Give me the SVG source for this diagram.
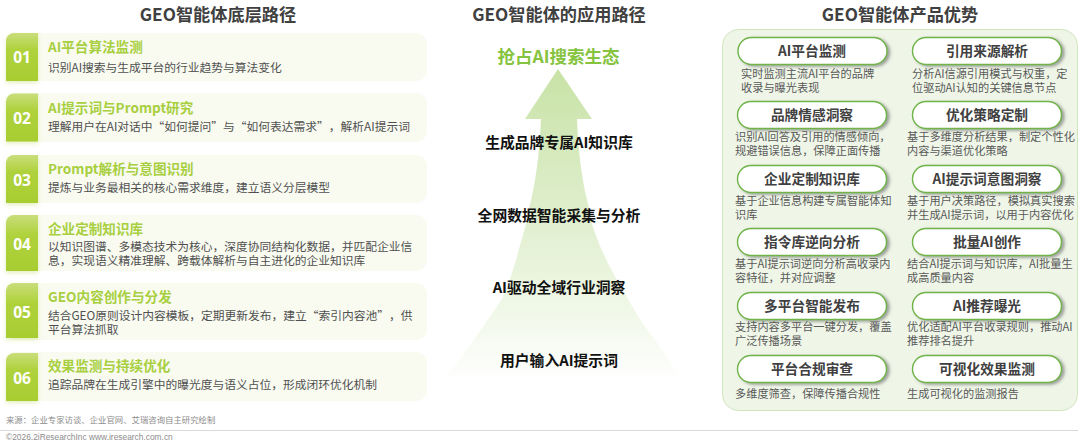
<svg xmlns="http://www.w3.org/2000/svg" width="1080" height="448" viewBox="0 0 1080 448">
<style>
text{font-family:"Noto Sans CJK SC","Noto Sans",sans-serif;text-spacing-trim:space-all}
.t{font-size:17.2px;font-weight:700;fill:#404040;text-anchor:middle}
.card{fill:#f9fbf1}
.num{font-size:15.5px;font-weight:700;fill:#fff;text-anchor:middle;font-family:"Open Sans","Noto Sans",sans-serif}
.h{font-size:13.6px;font-weight:700;fill:#a8cf3f}
.b{font-size:11.75px;fill:#505050}
.m{font-size:14.8px;font-weight:700;fill:#111;text-anchor:middle}
.pill{fill:#fff;stroke:#6fb348;stroke-width:1.4;filter:url(#sh)}
.pt{font-size:13.7px;font-weight:700;fill:#404040;text-anchor:middle}
.d{font-size:11.2px;fill:#595959}
.src{font-size:8.4px;fill:#8c8c8c}
</style>
<defs>
<linearGradient id="ng" x1="0" y1="0" x2="0" y2="1"><stop offset="0" stop-color="#c9de7c"/><stop offset=".35" stop-color="#afd23c"/><stop offset="1" stop-color="#a8cd32"/></linearGradient>
<linearGradient id="ar" gradientUnits="userSpaceOnUse" x1="0" y1="69" x2="0" y2="382"><stop offset="0" stop-color="#c8e2a6"/><stop offset=".4" stop-color="#dcedc8"/><stop offset=".75" stop-color="#eff7e6"/><stop offset="1" stop-color="#fff"/></linearGradient>
<filter id="sh" x="-10%" y="-30%" width="125%" height="170%"><feDropShadow dx="2.5" dy="1.5" stdDeviation="1.8" flood-color="#555" flood-opacity=".55"/></filter>
<filter id="sg" x="-30%" y="-10%" width="160%" height="130%"><feDropShadow dx="0" dy="2" stdDeviation="2" flood-color="#a8cd32" flood-opacity=".3"/></filter>
<path id="np" d="M0 8a8 8 0 0 1 8-8H32V48H0Z"/>
</defs>
<rect width="1080" height="448" fill="#fff"/>
<text class="t" x="218" y="21">GEO智能体底层路径</text>
<text class="t" x="559" y="21">GEO智能体的应用路径</text>
<text class="t" x="900" y="21">GEO智能体产品优势</text>

<g id="step1"><rect class="card" x="6" y="33" width="421" height="48" rx="11"/><use href="#np" x="6" y="33" fill="url(#ng)" filter="url(#sg)"/><text class="num" x="22" y="63">01</text><text class="h" x="48" y="52">AI平台算法监测</text><text class="b" x="48" y="72">识别AI搜索与生成平台的行业趋势与算法变化</text></g>
<g id="step2"><rect class="card" x="6" y="93" width="421" height="49" rx="11"/><use href="#np" x="6" y="93.500" fill="url(#ng)" filter="url(#sg)"/><text class="num" x="22" y="124">02</text><text class="h" x="48" y="113">AI提示词与Prompt研究</text><text class="b" x="48" y="131">理解用户在AI对话中“如何提问”与“如何表达需求”，解析AI提示词</text></g>
<g id="step3"><rect class="card" x="6" y="155" width="421" height="48" rx="11"/><use href="#np" x="6" y="155" fill="url(#ng)" filter="url(#sg)"/><text class="num" x="22" y="186">03</text><text class="h" x="48" y="174">Prompt解析与意图识别</text><text class="b" x="48" y="192">提炼与业务最相关的核心需求维度，建立语义分层模型</text></g>
<g id="step4"><rect class="card" x="6" y="215" width="421" height="56" rx="11"/><path d="M6 223a8 8 0 0 1 8-8H38V271H6Z" fill="url(#ng)" filter="url(#sg)"/><text class="num" x="22" y="250">04</text><text class="h" x="48" y="234">企业定制知识库</text><text class="b" x="48" y="250.500">以知识图谱、多模态技术为核心，深度协同结构化数据，并匹配企业信</text><text class="b" x="48" y="265">息，实现语义精准理解、跨载体解析与自主进化的企业知识库</text></g>
<g id="step5"><rect class="card" x="6" y="283" width="421" height="57" rx="11"/><path d="M6 291a8 8 0 0 1 8-8H38V338H6Z" fill="url(#ng)" filter="url(#sg)"/><text class="num" x="22" y="318">05</text><text class="h" x="48" y="302">GEO内容创作与分发</text><text class="b" x="48" y="319.500">结合GEO原则设计内容模板，定期更新发布，建立“索引内容池”，供</text><text class="b" x="48" y="334">平台算法抓取</text></g>
<g id="step6"><rect class="card" x="6" y="352" width="421" height="49" rx="11"/><use href="#np" x="6" y="353" fill="url(#ng)" filter="url(#sg)"/><text class="num" x="22" y="384">06</text><text class="h" x="48" y="371">效果监测与持续优化</text><text class="b" x="48" y="389">追踪品牌在生成引擎中的曝光度与语义占位，形成闭环优化机制</text></g>

<g id="arrow"><path d="M558 69L592 119H577C578 150 582 180 587 200C591 215 592 224 592 224C600 250 612 272 627 297C635 312 644 326 653 337C662 350 672 365 682 380H440C458 365 470 345 483 327C490 316 496 308 502 299C512 278 520 245 526 224C528 215 529 208 531 200C537 175 540 145 541 119H525Z" fill="url(#ar)"/></g>
<g id="app-path">
<text x="558.500" y="63" text-anchor="middle" font-size="17.5" font-weight="700" fill="#86c440">抢占AI搜索生态</text>
<text class="m" x="559" y="148">生成品牌专属AI知识库</text>
<text class="m" x="559" y="221">全网数据智能采集与分析</text>
<text class="m" x="559" y="293">AI驱动全域行业洞察</text>
<text class="m" x="559" y="366">用户输入AI提示词</text>
</g>

<rect id="panel" x="722.500" y="29.500" width="355" height="381" rx="16" fill="#eff6e8" stroke="#cfe6bd"/>
<g id="a1"><rect class="pill" x="738" y="37.500" width="149" height="27" rx="13.500"/><text class="pt" x="812" y="56">AI平台监测</text><text class="d" x="741" y="78">实时监测主流AI平台的品牌</text><text class="d" x="741" y="92">收录与曝光表现</text></g>
<g id="a2"><rect class="pill" x="912.500" y="37.500" width="149" height="27" rx="13.500"/><text class="pt" x="987" y="56">引用来源解析</text><text class="d" x="912" y="78">分析AI信源引用模式与权重，定</text><text class="d" x="912" y="92">位驱动AI认知的关键信息节点</text></g>
<g id="a3"><rect class="pill" x="737.500" y="101.500" width="149" height="27" rx="13.500"/><text class="pt" x="812" y="120">品牌情感洞察</text><text class="d" x="735" y="141">识别AI回答及引用的情感倾向，</text><text class="d" x="735" y="155">规避错误信息，保障正面传播</text></g>
<g id="a4"><rect class="pill" x="912.500" y="101.500" width="149" height="27" rx="13.500"/><text class="pt" x="987" y="120">优化策略定制</text><text class="d" x="907" y="141">基于多维度分析结果，制定个性化</text><text class="d" x="907" y="155">内容与渠道优化策略</text></g>
<g id="a5"><rect class="pill" x="737.500" y="165.500" width="149" height="27" rx="13.500"/><text class="pt" x="812" y="184">企业定制知识库</text><text class="d" x="735" y="205">基于企业信息构建专属智能体知</text><text class="d" x="735" y="219">识库</text></g>
<g id="a6"><rect class="pill" x="912.500" y="165.500" width="149" height="27" rx="13.500"/><text class="pt" x="987" y="184">AI提示词意图洞察</text><text class="d" x="907" y="205">基于用户决策路径，模拟真实搜索</text><text class="d" x="907" y="219">并生成AI提示词，以用于内容优化</text></g>
<g id="a7"><rect class="pill" x="737.500" y="228.500" width="149" height="27" rx="13.500"/><text class="pt" x="812" y="247">指令库逆向分析</text><text class="d" x="735" y="268">基于AI提示词逆向分析高收录内</text><text class="d" x="735" y="282">容特征，并对应调整</text></g>
<g id="a8"><rect class="pill" x="912.500" y="228.500" width="149" height="27" rx="13.500"/><text class="pt" x="987" y="247">批量AI创作</text><text class="d" x="907" y="268">结合AI提示词与知识库，AI批量生</text><text class="d" x="907" y="282">成高质量内容</text></g>
<g id="a9"><rect class="pill" x="737.500" y="292.500" width="149" height="27" rx="13.500"/><text class="pt" x="812" y="311">多平台智能发布</text><text class="d" x="735" y="331">支持内容多平台一键分发，覆盖</text><text class="d" x="735" y="345">广泛传播场景</text></g>
<g id="a10"><rect class="pill" x="912.500" y="292.500" width="149" height="27" rx="13.500"/><text class="pt" x="987" y="311">AI推荐曝光</text><text class="d" x="907" y="331">优化适配AI平台收录规则，推动AI</text><text class="d" x="907" y="345">推荐排名提升</text></g>
<g id="a11"><rect class="pill" x="737.500" y="355.500" width="149" height="27" rx="13.500"/><text class="pt" x="812" y="374">平台合规审查</text><text class="d" x="735" y="398">多维度筛查，保障传播合规性</text></g>
<g id="a12"><rect class="pill" x="912.500" y="355.500" width="149" height="27" rx="13.500"/><text class="pt" x="987" y="374">可视化效果监测</text><text class="d" x="907" y="398">生成可视化的监测报告</text></g>

<text class="src" x="6" y="423">来源：企业专家访谈、企业官网、艾瑞咨询自主研究绘制</text>
<line x1="0" y1="430.500" x2="1078" y2="430.500" stroke="#d9d9d9"/>
<text class="src" x="6" y="440" style="font-family:'Liberation Sans',sans-serif">©2026.2iResearchInc www.iresearch.com.cn</text>
</svg>
